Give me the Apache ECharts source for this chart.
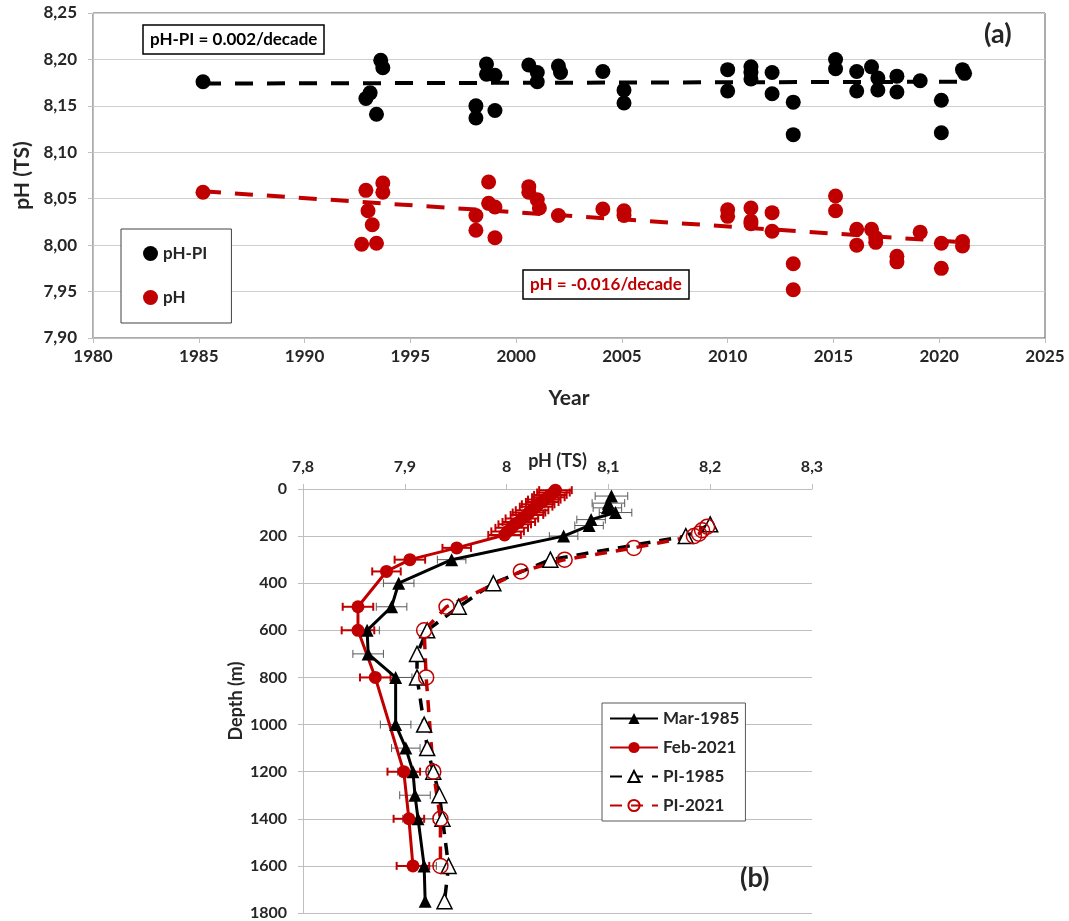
<!DOCTYPE html>
<html>
<head>
<meta charset="utf-8">
<script src="https://cdn.jsdelivr.net/npm/echarts@6/dist/echarts.min.js"></script>
<style>
  html, body { margin: 0; padding: 0; background: #ffffff; }
  #chart { width: 1069px; height: 921px; }
</style>
</head>
<body>
<div id="chart"></div>
<script>
// ---------- Panel (a): time series ----------
const piYears = [1985.2, 1993.6, 1993.7, 1992.9, 1993.1, 1993.4, 1998.6, 1998.6, 1999.0, 1998.1, 1998.1, 1999.0,
  2000.6, 2001.0, 2001.0, 2002.0, 2002.1, 2004.1, 2005.1, 2005.1, 2010.0, 2010.0, 2011.1, 2011.1, 2011.1,
  2012.1, 2012.1, 2013.1, 2013.1, 2015.1, 2015.1, 2016.1, 2016.1, 2016.8, 2017.1, 2017.1, 2018.0, 2018.0,
  2019.1, 2020.1, 2020.1, 2021.1, 2021.2];
const piValues = [8.176, 8.199, 8.191, 8.158, 8.164, 8.141, 8.195, 8.184, 8.183, 8.150, 8.137, 8.145,
  8.194, 8.186, 8.176, 8.193, 8.186, 8.187, 8.167, 8.153, 8.189, 8.166, 8.192, 8.186, 8.179,
  8.186, 8.163, 8.154, 8.119, 8.200, 8.190, 8.187, 8.166, 8.192, 8.180, 8.167, 8.182, 8.165,
  8.177, 8.156, 8.121, 8.189, 8.185];

const phYears = [1985.2, 1992.9, 1993.7, 1993.7, 1993.0, 1993.2, 1992.7, 1993.4, 1998.7, 1998.7, 1999.0, 1998.1,
  1998.1, 1999.0, 2000.6, 2000.6, 2001.0, 2001.1, 2002.0, 2004.1, 2005.1, 2005.1, 2010.0, 2010.0, 2011.1,
  2011.1, 2011.1, 2012.1, 2012.1, 2013.1, 2013.1, 2015.1, 2015.1, 2016.1, 2016.1, 2016.8, 2017.0, 2017.0,
  2018.0, 2018.0, 2019.1, 2020.1, 2020.1, 2021.1, 2021.1];
const phValues = [8.057, 8.059, 8.067, 8.057, 8.037, 8.022, 8.001, 8.002, 8.068, 8.045, 8.041, 8.032,
  8.016, 8.008, 8.063, 8.057, 8.049, 8.040, 8.032, 8.039, 8.037, 8.032, 8.038, 8.031, 8.040,
  8.026, 8.023, 8.035, 8.015, 7.980, 7.952, 8.053, 8.037, 8.017, 8.000, 8.017, 8.008, 8.003,
  7.988, 7.982, 8.014, 8.002, 7.975, 8.004, 7.999];

const trendYears = [1985.2, 2021.2];
const trendPI = [8.174, 8.176];
const trendPH = [8.058, 8.003];

// ---------- Panel (b): depth profiles ----------
const marDepth = [30, 60, 80, 100, 130, 155, 200, 300, 400, 500, 600, 700, 800, 1000, 1100, 1200, 1300, 1400, 1600, 1750];
const marPH    = [8.103, 8.100, 8.099, 8.107, 8.083, 8.081, 8.056, 7.946, 7.894, 7.887, 7.863, 7.864, 7.891, 7.891, 7.901, 7.908, 7.910, 7.913, 7.919, 7.920];
const marErr   = [0.016, 0.016, 0.014, 0.016, 0.014, 0.014, 0.014, 0.014, 0.015, 0.015, 0.012, 0.015, 0.016, 0.015, 0.014, 0.015, 0.015, 0.015, 0.012, 0];

const febDepth = [5, 15, 25, 35, 45, 55, 65, 75, 90, 100, 110, 125, 140, 150, 165, 180, 195, 250, 300, 350, 500, 600, 800, 1200, 1400, 1600];
const febPH    = [8.048, 8.046, 8.043, 8.041, 8.037, 8.035, 8.031, 8.029, 8.025, 8.022, 8.020, 8.015, 8.012, 8.008, 8.005, 8.001, 7.998, 7.951, 7.905, 7.882, 7.854, 7.854, 7.871, 7.899, 7.904, 7.908];
const febErr   = [0.016, 0.016, 0.016, 0.016, 0.016, 0.016, 0.016, 0.016, 0.016, 0.016, 0.016, 0.016, 0.016, 0.016, 0.016, 0.016, 0.016, 0.014, 0.015, 0.014, 0.015, 0.016, 0.015, 0.016, 0.015, 0.016];

const pi85Depth = [150, 200, 300, 400, 500, 600, 700, 800, 1000, 1100, 1200, 1300, 1400, 1600, 1750];
const pi85PH    = [8.200, 8.176, 8.043, 7.987, 7.953, 7.922, 7.912, 7.912, 7.919, 7.922, 7.928, 7.934, 7.937, 7.943, 7.939];

const pi21Depth = [160, 175, 190, 200, 250, 300, 350, 500, 600, 800, 1200, 1400, 1600];
const pi21PH    = [8.197, 8.192, 8.189, 8.184, 8.125, 8.057, 8.014, 7.941, 7.919, 7.921, 7.928, 7.935, 7.935];

// ---------- helpers ----------
const FONT = 'Lato, "Open Sans", "DejaVu Sans", sans-serif';
const RED = '#c00000';
const TXT = '#262626';
const zip = (xs, ys) => xs.map((x, i) => [x, ys[i]]);
const zip3 = (xs, ys, es) => xs.map((x, i) => [x, ys[i], es[i]]);

function errorBars(color, width) {
  return function (params, api) {
    const x = api.value(0), y = api.value(1), e = api.value(2);
    if (!e) return null;
    const a = api.coord([x - e, y]);
    const b = api.coord([x + e, y]);
    const h = 4;
    const st = { stroke: color, lineWidth: width };
    return {
      type: 'group',
      children: [
        { type: 'line', shape: { x1: a[0], y1: a[1], x2: b[0], y2: b[1] }, style: st },
        { type: 'line', shape: { x1: a[0], y1: a[1] - h, x2: a[0], y2: a[1] + h }, style: st },
        { type: 'line', shape: { x1: b[0], y1: b[1] - h, x2: b[0], y2: b[1] + h }, style: st }
      ]
    };
  };
}

const chart = echarts.init(document.getElementById('chart'), null, { renderer: 'canvas' });

const option = {
  backgroundColor: '#ffffff',
  animation: false,
  textStyle: { fontFamily: FONT },
  title: [
    { text: 'pH-PI = 0.002/decade', left: 143, top: 25, padding: [6, 7],
      borderColor: '#000', borderWidth: 1.5, backgroundColor: '#fff',
      textStyle: { fontFamily: FONT, fontWeight: 'bold', fontSize: 17, color: '#000' } },
    { text: 'pH = -0.016/decade', left: 523, top: 270, padding: [6, 7],
      borderColor: '#000', borderWidth: 1.5, backgroundColor: '#fff',
      textStyle: { fontFamily: FONT, fontWeight: 'bold', fontSize: 17, color: RED } },
    { text: '(a)', left: 979, top: 16,
      textStyle: { fontFamily: FONT, fontWeight: 'bold', fontSize: 27, color: TXT } },
    { text: '(b)', left: 735, top: 860,
      textStyle: { fontFamily: FONT, fontWeight: 'bold', fontSize: 27, color: TXT } }
  ],
  legend: [
    { data: ['pH-PI', 'pH'], orient: 'vertical', left: 121, top: 229,
      padding: [16, 24, 17, 22], itemGap: 27, itemWidth: 15, itemHeight: 15,
      borderColor: '#404040', borderWidth: 1, backgroundColor: '#fff',
      textStyle: { fontFamily: FONT, fontWeight: 'bold', fontSize: 17, color: TXT } },
    { data: ['Mar-1985', 'Feb-2021', 'PI-1985', 'PI-2021'], orient: 'vertical', left: 602, top: 703,
      padding: [7, 6, 7, 7], itemGap: 12, itemWidth: 48, itemHeight: 14,
      borderColor: '#595959', borderWidth: 1, backgroundColor: '#fff',
      textStyle: { fontFamily: FONT, fontWeight: 'bold', fontSize: 17, color: TXT } }
  ],
  grid: [
    { left: 93, top: 13, width: 952, height: 325, show: true, borderColor: '#595959', borderWidth: 1, backgroundColor: 'transparent' },
    { left: 303, top: 489, width: 509, height: 424 }
  ],
  xAxis: [
    { gridIndex: 0, type: 'value', min: 1980, max: 2025, interval: 5,
      name: 'Year', nameLocation: 'middle', nameGap: 50,
      nameTextStyle: { fontFamily: FONT, fontWeight: 'bold', fontSize: 21, color: TXT },
      axisLine: { show: true, lineStyle: { color: '#bfbfbf', width: 1 } },
      axisTick: { show: true, length: 5, lineStyle: { color: '#bfbfbf' } },
      axisLabel: { margin: 10, fontFamily: FONT, fontWeight: 'bold', fontSize: 17, color: TXT,
        formatter: v => String(v) },
      splitLine: { show: false } },
    { gridIndex: 1, type: 'value', position: 'top', min: 7.8, max: 8.3, interval: 0.1,
      name: 'pH (TS)', nameLocation: 'middle', nameGap: 19, nameMoveOverlap: false,
      nameTextStyle: { fontFamily: FONT, fontWeight: 'bold', fontSize: 18, color: TXT },
      axisLine: { show: true, lineStyle: { color: '#bfbfbf', width: 1 } },
      axisTick: { show: true, length: 5, lineStyle: { color: '#bfbfbf' } },
      axisLabel: { margin: 14, fontFamily: FONT, fontWeight: 'bold', fontSize: 16, color: TXT,
        formatter: v => String(Math.round(v * 10) / 10).replace('.', ',') },
      splitLine: { show: false } }
  ],
  yAxis: [
    { gridIndex: 0, type: 'value', min: 7.9, max: 8.25, interval: 0.05,
      name: 'pH (TS)', nameLocation: 'middle', nameGap: 60,
      nameTextStyle: { fontFamily: FONT, fontWeight: 'bold', fontSize: 21, color: TXT },
      axisLine: { show: true, lineStyle: { color: '#bfbfbf', width: 1 } },
      axisTick: { show: true, length: 5, lineStyle: { color: '#bfbfbf' } },
      axisLabel: { margin: 16, fontFamily: FONT, fontWeight: 'bold', fontSize: 17, color: TXT,
        formatter: v => v.toFixed(2).replace('.', ',') },
      splitLine: { show: true, lineStyle: { color: '#cfcfcf', width: 1 } } },
    { gridIndex: 1, type: 'value', inverse: true, min: 0, max: 1800, interval: 200,
      name: 'Depth (m)', nameLocation: 'middle', nameGap: 58,
      nameTextStyle: { fontFamily: FONT, fontWeight: 'bold', fontSize: 18, color: TXT },
      axisLine: { show: true, lineStyle: { color: '#bfbfbf', width: 1 } },
      axisTick: { show: true, length: 5, lineStyle: { color: '#bfbfbf' } },
      axisLabel: { margin: 16, fontFamily: FONT, fontWeight: 'bold', fontSize: 16, color: TXT,
        formatter: v => String(v) },
      splitLine: { show: true, lineStyle: { color: '#bfbfbf', width: 1 } } }
  ],
  series: [
    // ----- panel (a) -----
    { name: 'pH-PI trend', type: 'line', xAxisIndex: 0, yAxisIndex: 0, data: zip(trendYears, trendPI),
      symbol: 'none', lineStyle: { color: '#000', width: 4, type: [18, 14] }, z: 2, silent: true },
    { name: 'pH trend', type: 'line', xAxisIndex: 0, yAxisIndex: 0, data: zip(trendYears, trendPH),
      symbol: 'none', lineStyle: { color: RED, width: 4, type: [18, 14] }, z: 2, silent: true },
    { name: 'pH-PI', type: 'scatter', xAxisIndex: 0, yAxisIndex: 0, data: zip(piYears, piValues),
      symbol: 'circle', symbolSize: 15, itemStyle: { color: '#000', opacity: 1 }, z: 3 },
    { name: 'pH', type: 'scatter', xAxisIndex: 0, yAxisIndex: 0, data: zip(phYears, phValues),
      symbol: 'circle', symbolSize: 15, itemStyle: { color: RED, opacity: 1 }, z: 3 },

    // ----- panel (b) error bars -----
    { name: 'err-mar', type: 'custom', xAxisIndex: 1, yAxisIndex: 1, data: zip3(marPH, marDepth, marErr),
      encode: { x: 0, y: 1 }, renderItem: errorBars('#595959', 1), z: 2, silent: true },
    { name: 'err-feb', type: 'custom', xAxisIndex: 1, yAxisIndex: 1, data: zip3(febPH, febDepth, febErr),
      encode: { x: 0, y: 1 }, renderItem: errorBars(RED, 2), z: 2, silent: true },

    // ----- panel (b) profiles -----
    { name: 'Mar-1985', type: 'line', xAxisIndex: 1, yAxisIndex: 1, data: zip(marPH, marDepth),
      symbol: 'triangle', symbolSize: 13, showAllSymbol: true,
      itemStyle: { color: '#000' }, lineStyle: { color: '#000', width: 3 }, z: 4 },
    { name: 'Feb-2021', type: 'line', xAxisIndex: 1, yAxisIndex: 1, data: zip(febPH, febDepth),
      symbol: 'circle', symbolSize: 13, showAllSymbol: true,
      itemStyle: { color: RED }, lineStyle: { color: RED, width: 3 }, z: 4 },
    { name: 'PI-1985', type: 'line', xAxisIndex: 1, yAxisIndex: 1, data: zip(pi85PH, pi85Depth),
      symbol: 'triangle', symbolSize: 15, showAllSymbol: true,
      itemStyle: { color: '#ffffff', borderColor: '#000', borderWidth: 1.5 },
      lineStyle: { color: '#000', width: 3.5, type: [12, 9] }, z: 3 },
    { name: 'PI-2021', type: 'line', xAxisIndex: 1, yAxisIndex: 1, data: zip(pi21PH, pi21Depth),
      symbol: 'circle', symbolSize: 15, showAllSymbol: true,
      itemStyle: { color: 'rgba(255,255,255,0)', borderColor: RED, borderWidth: 1.5 },
      lineStyle: { color: RED, width: 3.5, type: [12, 9] }, z: 3 }
  ]
};

chart.setOption(option);
</script>
</body>
</html>
